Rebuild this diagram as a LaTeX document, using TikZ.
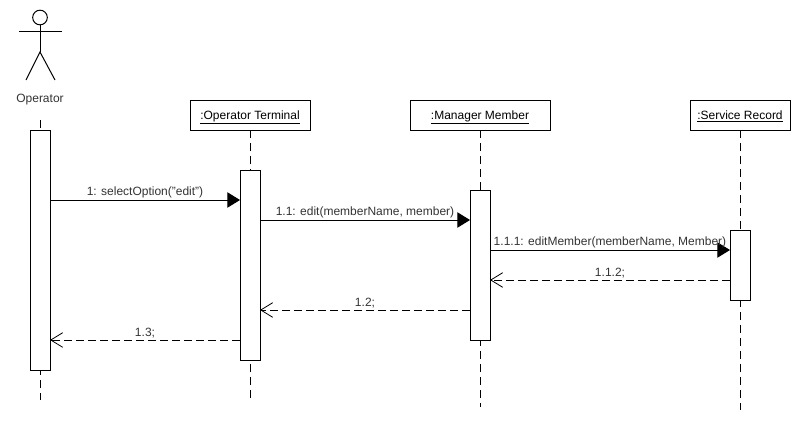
\documentclass[tikz,border=0pt]{standalone}
\usepackage{fontspec}
\setmainfont{Liberation Sans}
\usetikzlibrary{arrows.meta,positioning}
\tikzset{
  head/.style={draw,line width=.75pt,minimum height=22.5pt,inner sep=0pt,outer sep=0pt,text depth=0pt,font=\fontsize{9}{11}\selectfont},
  bar/.style={draw,fill=white,line width=.75pt,minimum width=15pt,inner sep=0pt,outer sep=0pt},
  life/.style={line width=.75pt,dash pattern=on 6pt off 3.75pt},
  call/.style={line width=.75pt,-{Triangle[length=9.5pt,width=11.5pt]}},
  back/.style={line width=.75pt,dash pattern=on 6pt off 3pt,-{Straight Barb[length=9pt,width=11pt,line width=.6pt]}},
  msg/.style={above,inner sep=.8pt,font=\fontsize{9}{11}\selectfont,text=black!80}
}
\begin{document}
\begin{tikzpicture}[x=.75pt,y=.75pt]
    \useasboundingbox (0,0) rectangle (800,-440);
    % actor
    \node[draw,circle,line width=.75pt,minimum size=11pt,inner sep=0pt,outer sep=0pt] (ophead) at (40,-17.5) {};
    \coordinate (opleft) at (19,-31);
    \coordinate (opright) at (62,-31);
    \coordinate (ophip) at (40,-52);
    \coordinate (opfootl) at (26,-80);
    \coordinate (opfootr) at (55,-80);
    \draw[line width=.75pt] (ophead.south) -- (ophip);
    \draw[line width=.75pt] (opleft) -- (opright);
    \draw[line width=.75pt] (opfootl) -- (ophip) -- (opfootr);
    \node[font=\fontsize{9}{11}\selectfont,text=black!80] (operator) at (40,-100) {Operator};
    % lifeline heads
    \node[head,minimum width=90pt] (term) at (250,-115) {\underline{:Operator Terminal}};
    \node[head,minimum width=105pt] (manager) [right=75pt of term] {\underline{:Manager Member}};
    \node[head,minimum width=75pt] (record) [right=105pt of manager] {\underline{:Service Record}};
    \coordinate (opstart) at (40,-120);
    \coordinate (opend) at (40,-400);
    \coordinate (termend) at (250,-400);
    \coordinate (managerend) at (480,-407);
    \coordinate (recordend) at (740,-410);
    \draw[life] (opstart) -- (opend);
    \draw[life] (term.south) -- (termend);
    \draw[life] (manager.south) -- (managerend);
    \draw[life] (record.south) -- (recordend);
    % activation bars
    \node[bar,minimum height=180pt] (opbar) at (40,-250) {};
    \node[bar,minimum height=142.5pt] (termbar) [below=30pt of term] {};
    \node[bar,minimum height=112.5pt] (managerbar) [below=45pt of manager] {};
    \node[bar,minimum height=52.5pt] (recordbar) [below=75pt of record] {};
    % messages
    \coordinate (m1) at (0,-200);
    \coordinate (m2) at (0,-220);
    \coordinate (m3) at (0,-250);
    \coordinate (m4) at (0,-280);
    \coordinate (m5) at (0,-310);
    \coordinate (m6) at (0,-340);
    \draw[call] (opbar.east |- m1) -- node[msg] {1: selectOption("edit")} (termbar.west |- m1);
    \draw[call] (termbar.east |- m2) -- node[msg] {1.1: edit(memberName, member)} (managerbar.west |- m2);
    \draw[call] (managerbar.east |- m3) -- node[msg] {1.1.1: editMember(memberName, Member)} (recordbar.west |- m3);
    \draw[back] (recordbar.west |- m4) -- node[msg] {1.1.2;} (managerbar.east |- m4);
    \draw[back] (managerbar.west |- m5) -- node[msg] {1.2;} (termbar.east |- m5);
    \draw[back] (termbar.west |- m6) -- node[msg] {1.3;} (opbar.east |- m6);
\end{tikzpicture}
\end{document}
